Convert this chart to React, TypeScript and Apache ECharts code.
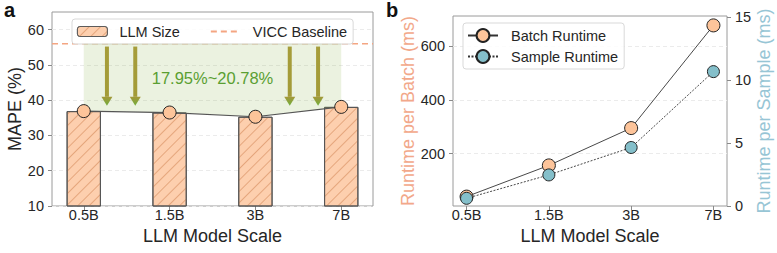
import { useEffect, useRef } from 'react';
import * as echarts from 'echarts';

// ---- data ----
const SCALES = ['0.5B', '1.5B', '3B', '7B'];
const SCALE_POS = [0, 1, 2, 3];
const MAPE = [36.9, 36.5, 35.3, 38.1];
const VICC_BASELINE = 56;
const ARROW_X = [0.27, 0.6, 2.4, 2.73];
const ARROW_FROM = 55.2;
const ARROW_TO = 38.4;
const IMPROVEMENT_LABEL = '17.95%~20.78%';
const IMPROVEMENT_POS = [1.5, 46.4];
const MAPE_TICKS = [10, 20, 30, 40, 50, 60];
const BATCH_RUNTIME = [40, 156, 295, 677];
const SAMPLE_RUNTIME = [0.61, 2.47, 4.65, 10.68];
const BATCH_TICKS = [200, 400, 600];
const SAMPLE_TICKS = [0, 5, 10, 15];

const FONT = '"Liberation Sans", Arial, sans-serif';
const TXT = '#262626';
const SPINE = '#9a9a9a';

const ax = (extra: any) => ({
  axisLine: { show: false, onZero: false },
  splitLine: { show: false },
  axisTick: { show: true, length: 4, lineStyle: { color: '#8a8a8a', width: 1 } },
  axisLabel: { color: TXT, fontSize: 14.5, fontFamily: FONT },
  nameTextStyle: { fontSize: 18, fontFamily: FONT, color: TXT },
  nameLocation: 'middle',
  ...extra,
});

export default function App() {
  const ref = useRef<HTMLDivElement>(null);
  useEffect(() => {
    if (!ref.current) return;
    const chart = echarts.init(ref.current, undefined, { renderer: 'svg' });
    const label = (v: number) => SCALES[SCALE_POS.indexOf(Math.round(v))] ?? '';
    const arrowShaft = new echarts.graphic.LinearGradient(0, 0, 0, 1, [
      { offset: 0, color: '#a69d3a' },
      { offset: 1, color: '#a39b38' },
    ]);
    const arrowHead = new echarts.graphic.LinearGradient(0, 0, 0, 1, [
      { offset: 0, color: '#a5983a' },
      { offset: 1, color: '#6fae3b' },
    ]);
    const xLabel = { customValues: SCALE_POS, formatter: label, color: TXT, fontSize: 14.5, fontFamily: FONT, margin: 1 };
    const option: any = {
      animation: false,
      textStyle: { fontFamily: FONT },
      grid: [
        { left: 52, top: 12, width: 321, height: 194, show: true, borderColor: SPINE, borderWidth: 1, backgroundColor: 'transparent' },
        { left: 453, top: 16, width: 274, height: 190, show: true, borderColor: SPINE, borderWidth: 1, backgroundColor: 'transparent' },
      ],
      xAxis: [
        ax({
          type: 'value', gridIndex: 0, min: -0.37, max: 3.37,
          name: 'LLM Model Scale', nameGap: 20,
          axisTick: { show: true, length: 4, customValues: SCALE_POS, lineStyle: { color: '#8a8a8a' } },
          axisLabel: xLabel,
        }),
        ax({
          type: 'value', gridIndex: 1, min: -0.165, max: 3.165,
          name: 'LLM Model Scale', nameGap: 20,
          axisTick: { show: true, length: 4, customValues: SCALE_POS, lineStyle: { color: '#8a8a8a' } },
          axisLabel: xLabel,
        }),
      ],
      yAxis: [
        ax({
          type: 'value', gridIndex: 0, min: 10, max: 65,
          name: 'MAPE (%)', nameGap: 28,
          splitLine: { show: true, lineStyle: { color: '#ebebeb', type: [4, 3], width: 1 } },
          axisTick: { show: true, length: 4, customValues: MAPE_TICKS, lineStyle: { color: '#8a8a8a' } },
          axisLabel: { customValues: MAPE_TICKS, color: TXT, fontSize: 14.5, fontFamily: FONT, margin: 8 },
        }),
        ax({
          type: 'value', gridIndex: 1, min: 5, max: 712,
          name: 'Runtime per Batch (ms)', nameGap: 34,
          nameTextStyle: { fontSize: 18, fontFamily: FONT, color: '#f2a88a' },
          splitLine: { show: true, lineStyle: { color: '#ebebeb', type: [4, 3], width: 1 } },
          axisTick: { show: true, length: 4, customValues: BATCH_TICKS, lineStyle: { color: '#8a8a8a' } },
          axisLabel: { customValues: BATCH_TICKS, color: TXT, fontSize: 14.5, fontFamily: FONT, margin: 8 },
        }),
        ax({
          type: 'value', gridIndex: 1, position: 'right', min: 0, max: 15.1,
          name: 'Runtime per Sample (ms)', nameGap: 24,
          nameTextStyle: { fontSize: 18, fontFamily: FONT, color: '#97c5d5' },
          axisTick: { show: true, length: 4, customValues: SAMPLE_TICKS, lineStyle: { color: '#8a8a8a' } },
          axisLabel: { customValues: SAMPLE_TICKS, color: TXT, fontSize: 14.5, fontFamily: FONT, margin: 8 },
        }),
      ],
      legend: [
        {
          data: [
            { name: 'LLM Size', itemStyle: { borderWidth: 0.8, borderColor: '#555' } },
            { name: 'VICC Baseline', itemStyle: { color: 'rgba(0,0,0,0)', borderColor: 'rgba(0,0,0,0)', borderWidth: 0, opacity: 0 } },
          ],
          left: 72, top: 19, orient: 'horizontal',
          itemWidth: 30, itemHeight: 10, itemGap: 30,
          padding: [5, 6, 5, 5],
          backgroundColor: 'rgba(255,255,255,0.85)',
          borderColor: '#d9d9d9', borderWidth: 1, borderRadius: 3,
          textStyle: { fontSize: 14.5, color: TXT, fontFamily: FONT, padding: [0, 0, 0, 7] },
        },
        {
          data: ['Batch Runtime', 'Sample Runtime'],
          left: 463, top: 23, orient: 'vertical',
          itemWidth: 30, itemHeight: 16, itemGap: 6,
          padding: [5, 6, 5, 4],
          backgroundColor: 'rgba(255,255,255,0.85)',
          borderColor: '#d9d9d9', borderWidth: 1, borderRadius: 3,
          textStyle: { fontSize: 14.5, color: TXT, fontFamily: FONT, padding: [0, 0, 0, 8] },
        },
      ],
      graphic: [
        { type: 'text', left: 4, top: 0, style: { text: 'a', font: `bold 20px ${FONT}`, fill: '#111' } },
        { type: 'text', left: 386, top: 0, style: { text: 'b', font: `bold 20px ${FONT}`, fill: '#111' } },
      ],
      series: [
        {
          name: 'LLM Size', type: 'bar', xAxisIndex: 0, yAxisIndex: 0,
          data: SCALE_POS.map((x, i) => [x, MAPE[i]]),
          barWidth: 34.3, z: 2, clip: true,
          itemStyle: {
            color: '#fdcfae', borderColor: '#555', borderWidth: 1,
            decal: { symbol: 'rect', symbolSize: 1, dashArrayX: [1, 0], dashArrayY: [1, 7], rotation: -Math.PI / 4, color: 'rgba(205,125,75,0.5)' },
          },
        },
        {
          name: 'VICC Baseline', type: 'line', xAxisIndex: 0, yAxisIndex: 0,
          data: [[-0.37, VICC_BASELINE], [3.37, VICC_BASELINE]],
          symbol: 'none', z: 3,
          lineStyle: { color: '#f4a582', width: 1.3, type: [6, 4] },
          itemStyle: { color: '#f4a582' },
        },
        {
          name: 'MAPE', type: 'line', xAxisIndex: 0, yAxisIndex: 0,
          data: SCALE_POS.map((x, i) => [x, MAPE[i]]),
          symbol: 'circle', symbolSize: 13, z: 5,
          lineStyle: { color: '#555', width: 1.2 },
          itemStyle: { color: '#fdc49a', borderColor: '#222', borderWidth: 1 },
          areaStyle: { origin: VICC_BASELINE, color: 'rgba(140,180,80,0.25)' },
        },
        {
          name: 'arrows', type: 'custom', xAxisIndex: 0, yAxisIndex: 0, z: 6,
          data: ARROW_X.map((x) => [x, ARROW_FROM, ARROW_TO]),
          renderItem: (_p: any, api: any) => {
            const a = api.coord([api.value(0), api.value(1)]);
            const b = api.coord([api.value(0), api.value(2)]);
            const hw = 5.5, hl = 9, sw = 2;
            return {
              type: 'group',
              children: [
                { type: 'rect', shape: { x: a[0] - sw, y: a[1], width: sw * 2, height: b[1] - hl - a[1] }, style: { fill: arrowShaft } },
                { type: 'polygon', shape: { points: [[a[0] - hw, b[1] - hl], [a[0] + hw, b[1] - hl], [a[0], b[1]]] }, style: { fill: arrowHead } },
              ],
            };
          },
        },
        {
          name: 'improvement', type: 'custom', xAxisIndex: 0, yAxisIndex: 0, z: 7,
          data: [IMPROVEMENT_POS],
          renderItem: (_p: any, api: any) => {
            const p = api.coord([api.value(0), api.value(1)]);
            return {
              type: 'text', x: p[0], y: p[1],
              style: { text: IMPROVEMENT_LABEL, fill: '#5a9f32', fontSize: 16.5, fontFamily: FONT, align: 'center', verticalAlign: 'middle' },
            };
          },
        },
        {
          name: 'Batch Runtime', type: 'line', xAxisIndex: 1, yAxisIndex: 1,
          data: SCALE_POS.map((x, i) => [x, BATCH_RUNTIME[i]]),
          symbol: 'circle', symbolSize: 13, z: 5,
          lineStyle: { color: '#333', width: 0.9 },
          itemStyle: { color: '#fdc49a', borderColor: '#222', borderWidth: 1 },
        },
        {
          name: 'Sample Runtime', type: 'line', xAxisIndex: 1, yAxisIndex: 2,
          data: SCALE_POS.map((x, i) => [x, SAMPLE_RUNTIME[i]]),
          symbol: 'circle', symbolSize: 12, z: 6,
          lineStyle: { color: '#333', width: 0.9, type: [2, 1.5] },
          itemStyle: { color: '#84bfca', borderColor: '#222', borderWidth: 1 },
        },
      ],
    };
    chart.setOption(option);
    return () => chart.dispose();
  }, []);
  return <div ref={ref} style={{ position: 'fixed', left: 0, top: 0, width: 777, height: 253, background: '#fff' }} />;
}
